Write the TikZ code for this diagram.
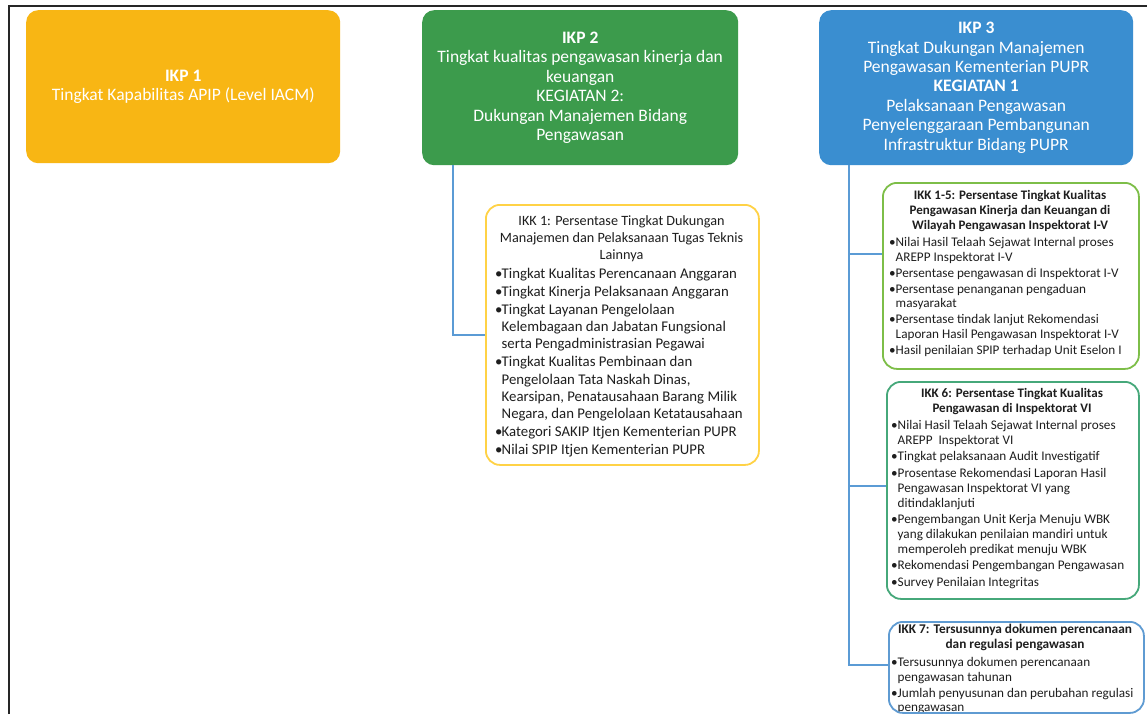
\documentclass[tikz,border=0pt]{standalone}
\usepackage{fontspec}
\setmainfont{Carlito}
\usetikzlibrary{calc}

\definecolor{ikpyellow}{RGB}{248,182,20}
\definecolor{ikpgreen}{RGB}{60,155,76}
\definecolor{ikpblue}{RGB}{58,142,208}
\definecolor{linkblue}{RGB}{91,155,213}
\definecolor{edgeyellow}{RGB}{255,210,70}
\definecolor{edgegreen}{RGB}{125,190,72}
\definecolor{edgeteal}{RGB}{70,168,122}
\definecolor{edgeblue}{RGB}{95,155,210}
\definecolor{ink}{RGB}{30,30,30}

% bullet and continuation indent for the indicator lists
\newcommand{\ikb}{\makebox[6.5pt][l]{\textbullet}}
\newcommand{\ikc}{\hspace*{6.5pt}}

\begin{document}
\begin{tikzpicture}[x=1pt,y=-1pt,
  ikp/.style={rounded corners=12pt, anchor=north west, inner sep=0pt,
    text=white, align=center, font=\fontsize{17.5}{19.4}\selectfont},
  ikk/.style={draw, line width=1.8pt, rounded corners=14pt,
    anchor=north west, inner sep=0pt},
  ttl/.style={anchor=north, align=center, inner sep=0pt, text=ink},
  bdy/.style={anchor=north west, align=left, inner sep=0pt, text=ink},
  conn/.style={draw=linkblue, line width=1.3pt}]

\useasboundingbox (0,0) rectangle (1147,714);
\fill[white] (0,0) rectangle (1147,714);

% page frame
\draw[line width=2.2pt, black!85] (9,714) -- (9,6) -- (1147,6);

% top level performance indicators
\node[ikp, fill=ikpyellow, minimum width=314pt, minimum height=153pt] (ikp1) at (26,10)
  {\textbf{IKP 1}\\Tingkat Kapabilitas APIP (Level IACM)};
\node[ikp, fill=ikpgreen, minimum width=316pt, minimum height=155pt] (ikp2) at (422,10)
  {\textbf{IKP 2}\\Tingkat kualitas pengawasan kinerja dan\\keuangan\\KEGIATAN 2:\\Dukungan Manajemen Bidang\\Pengawasan};
\node[ikp, fill=ikpblue, minimum width=314pt, minimum height=155pt] (ikp3) at (819,10)
  {\textbf{IKP 3}\\Tingkat Dukungan Manajemen\\Pengawasan Kementerian PUPR\\\textbf{KEGIATAN 1}\\Pelaksanaan Pengawasan\\Penyelenggaraan Pembangunan\\Infrastruktur Bidang PUPR};

% IKK 1
\node[ttl, font=\fontsize{14.2}{17}\selectfont] (ikk1t) at (621.5,215.5)
  {IKK 1: Persentase Tingkat Dukungan\\Manajemen dan Pelaksanaan Tugas Teknis\\Lainnya};
\node[bdy, font=\fontsize{14.8}{17.1}\selectfont] (ikk1b) at (495,268)
  {\ikb Tingkat Kualitas Perencanaan Anggaran\\[1pt]
   \ikb Tingkat Kinerja Pelaksanaan Anggaran\\[1pt]
   \ikb Tingkat Layanan Pengelolaan\\
   \ikc Kelembagaan dan Jabatan Fungsional\\
   \ikc serta Pengadministrasian Pegawai\\[1pt]
   \ikb Tingkat Kualitas Pembinaan dan\\
   \ikc Pengelolaan Tata Naskah Dinas,\\
   \ikc Kearsipan, Penatausahaan Barang Milik\\
   \ikc Negara, dan Pengelolaan Ketatausahaan\\[1pt]
   \ikb Kategori SAKIP Itjen Kementerian PUPR\\[1pt]
   \ikb Nilai SPIP Itjen Kementerian PUPR};
\node[ikk, draw=edgeyellow, minimum width=273pt, minimum height=260pt] (ikk1) at (485,204) {};

% IKK 1-5
\node[ttl, font=\bfseries\fontsize{13}{15}\selectfont] (ikk15t) at (1010,190.2)
  {IKK 1-5: Persentase Tingkat Kualitas\\Pengawasan Kinerja dan Keuangan di\\Wilayah Pengawasan Inspektorat I-V};
\node[bdy, font=\fontsize{13.2}{14.5}\selectfont] (ikk15b) at (889,237.2)
  {\ikb Nilai Hasil Telaah Sejawat Internal proses\\
   \ikc AREPP Inspektorat I-V\\[1.5pt]
   \ikb Persentase pengawasan di Inspektorat I-V\\[1.5pt]
   \ikb Persentase penanganan pengaduan\\
   \ikc masyarakat\\[1.5pt]
   \ikb Persentase tindak lanjut Rekomendasi\\
   \ikc Laporan Hasil Pengawasan Inspektorat I-V\\[1.5pt]
   \ikb Hasil penilaian SPIP terhadap Unit Eselon I};
\node[ikk, draw=edgegreen, minimum width=256pt, minimum height=186pt] (ikk15) at (882,182) {};

% IKK 6
\node[ttl, font=\bfseries\fontsize{13}{15}\selectfont] (ikk6t) at (1012,388.2)
  {IKK 6: Persentase Tingkat Kualitas\\Pengawasan di Inspektorat VI};
\node[bdy, font=\fontsize{13.2}{14.8}\selectfont] (ikk6b) at (891,420.2)
  {\ikb Nilai Hasil Telaah Sejawat Internal proses\\
   \ikc AREPP\ \ Inspektorat VI\\[1.8pt]
   \ikb Tingkat pelaksanaan Audit Investigatif\\[1.8pt]
   \ikb Prosentase Rekomendasi Laporan Hasil\\
   \ikc Pengawasan Inspektorat VI yang\\
   \ikc ditindaklanjuti\\[1.8pt]
   \ikb Pengembangan Unit Kerja Menuju WBK\\
   \ikc yang dilakukan penilaian mandiri untuk\\
   \ikc memperoleh predikat menuju WBK\\[1.8pt]
   \ikb Rekomendasi Pengembangan Pengawasan\\[1.8pt]
   \ikb Survey Penilaian Integritas};
\node[ikk, draw=edgeteal, minimum width=252pt, minimum height=217pt] (ikk6) at (886,381) {};

% IKK 7 (its list runs into the lower border)
\node[ttl, font=\bfseries\fontsize{13.3}{15}\selectfont] (ikk7t) at (1015,624.2)
  {IKK 7: Tersusunnya dokumen perencanaan\\dan regulasi pengawasan};
\node[bdy, font=\fontsize{13.2}{14.5}\selectfont] (ikk7b) at (891,657.2)
  {\ikb Tersusunnya dokumen perencanaan\\
   \ikc pengawasan tahunan\\[1.5pt]
   \ikb Jumlah penyusunan dan perubahan regulasi\\
   \ikc pengawasan};
\node[ikk, draw=edgeblue, minimum width=255pt, minimum height=91pt] (ikk7) at (888,621) {};

% connectors
\coordinate (j2) at (453,333);
\draw[conn] (ikp2.south -| j2) |- (ikk1.west);

\coordinate (j3) at (849,0);
\coordinate (b15) at (849,254);
\coordinate (b6) at (849,486);
\coordinate (b7) at (849,665);
\draw[conn] (ikp3.south -| j3) -- (b7) -- (b7 -| ikk7.west);
\draw[conn] (b15) -- (b15 -| ikk15.west);
\draw[conn] (b6) -- (b6 -| ikk6.west);

\end{tikzpicture}
\end{document}
